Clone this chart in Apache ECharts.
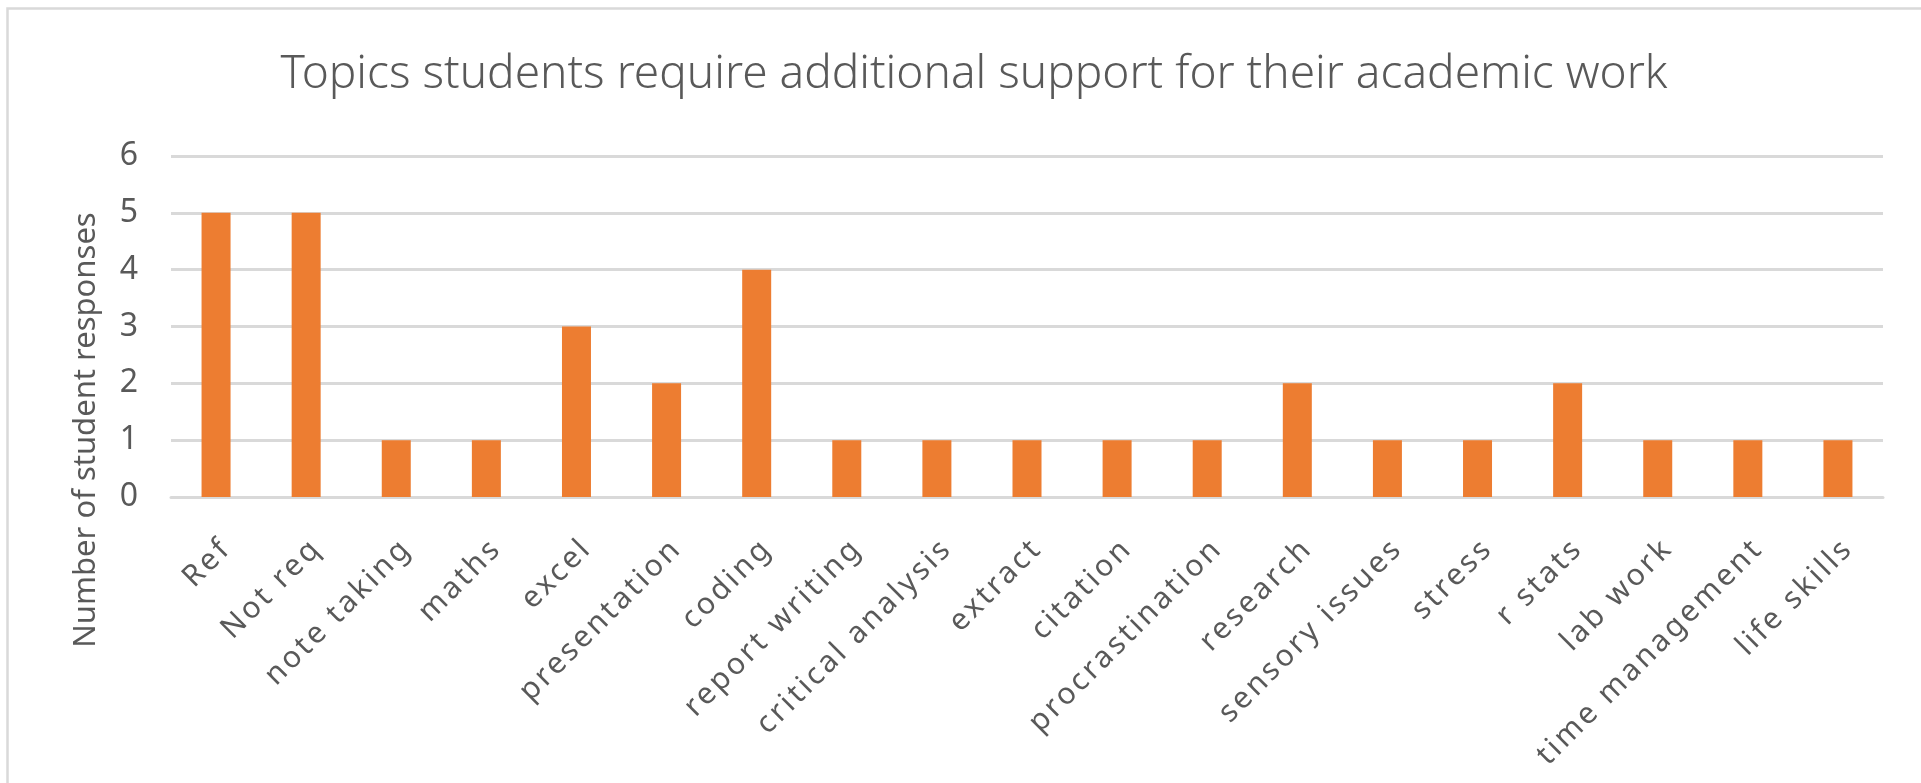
<!DOCTYPE html>
<html>
<head>
<meta charset="utf-8">
<script src="https://cdn.jsdelivr.net/npm/echarts@6/dist/echarts.min.js"></script>
<style>
html,body{margin:0;padding:0;background:#fff;}
#chart{width:1921px;height:783px;}
</style>
</head>
<body>
<div id="chart"></div>
<script>
const chartTitle = 'Topics students require additional support for their academic work';
const yAxisTitle = 'Number of student responses';
const categories = ['Ref', 'Not req', 'note taking', 'maths', 'excel', 'presentation', 'coding',
  'report writing', 'critical analysis', 'extract', 'citation', 'procrastination', 'research',
  'sensory issues', 'stress', 'r stats', 'lab work', 'time management', 'life skills'];
const responses = [5, 5, 1, 1, 3, 2, 4, 1, 1, 1, 1, 1, 2, 1, 1, 2, 1, 1, 1];
const yTicks = [0, 1, 2, 3, 4, 5, 6];

const FONT = '"Noto Sans", "Open Sans", sans-serif';
const TEXT = '#595959';
const GRID = '#D9D9D9';

// The reference renders the category labels with wide letter spacing.
(function () {
  const proto = CanvasRenderingContext2D.prototype;
  if (!('letterSpacing' in proto)) return;
  const labelSet = new Set(categories);
  const orig = proto.fillText;
  proto.fillText = function (t, x, y, w) {
    const spaced = labelSet.has(String(t));
    this.save();
    const f = this.font;
    this.letterSpacing = spaced ? '3px' : '0px';
    this.font = f;
    const r = w === undefined ? orig.call(this, t, x, y) : orig.call(this, t, x, y, w);
    this.restore();
    return r;
  };
})();

const chart = echarts.init(document.getElementById('chart'), null, {renderer: 'canvas'});
chart.setOption({
  backgroundColor: '#ffffff',
  animation: false,
  title: {
    text: chartTitle,
    left: 974,
    top: 52,
    padding: 0,
    textAlign: 'center',
    textStyle: {fontFamily: FONT, fontSize: 46, fontWeight: 300, color: TEXT}
  },
  graphic: [
    {
      type: 'rect', left: 5, top: 6, silent: true,
      shape: {width: 1940, height: 820},
      style: {fill: 'none', stroke: GRID, lineWidth: 2.5}
    },
    {
      type: 'text', x: 86, y: 430, rotation: Math.PI / 2, silent: true,
      style: {text: yAxisTitle, fontFamily: FONT, fontSize: 31, fill: TEXT,
        align: 'center', verticalAlign: 'middle'}
    }
  ],
  grid: {left: 171, right: 38, top: 156, bottom: 286, containLabel: false},
  xAxis: {
    type: 'category',
    data: categories,
    axisLine: {show: true, lineStyle: {color: GRID, width: 3}},
    axisTick: {show: false},
    axisLabel: {interval: 0, rotate: 45, margin: 36, align: 'right', verticalAlign: 'top',
      fontFamily: FONT, fontSize: 30, color: TEXT}
  },
  yAxis: {
    type: 'value',
    min: yTicks[0],
    max: yTicks[yTicks.length - 1],
    interval: 1,
    axisLine: {show: false},
    axisTick: {show: false},
    splitLine: {lineStyle: {color: GRID, width: 3}},
    axisLabel: {margin: 33, fontFamily: FONT, fontSize: 32, color: TEXT}
  },
  series: [{
    type: 'bar',
    data: responses,
    barWidth: 29,
    itemStyle: {color: '#ED7D31'}
  }]
});
</script>
</body>
</html>
